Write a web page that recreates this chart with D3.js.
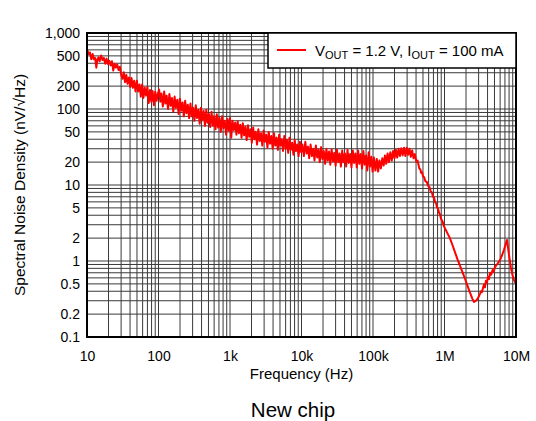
<!DOCTYPE html>
<html>
<head>
<meta charset="utf-8">
<script src="https://cdn.jsdelivr.net/npm/d3@7"></script>
<style>
  html, body { margin: 0; padding: 0; background: #fff; }
  svg { display: block; font-family: "Liberation Sans", Arial, sans-serif; }
</style>
</head>
<body>
<svg id="chart" width="536" height="421"></svg>
<script>
// Measured output noise spectral density: [frequency (Hz), noise (nV/√Hz)]
const noiseSpectrum = [
  [10, 620], [10.5, 530], [11, 555], [11.5, 450], [12, 530], [12.5, 450], [13, 470],
  [13.5, 350], [14, 450], [14.5, 480], [15, 425], [15.8, 505], [16.5, 440], [17.2, 470],
  [18, 395], [18.8, 460], [19.6, 390], [20.5, 430], [21.4, 375], [22.3, 425], [23.3, 320],
  [24.3, 395], [25.4, 350], [26.5, 385], [27.6, 325], [28.8, 360], [30, 285], [31.3, 250],
  [32.7, 305], [34, 225], [35.5, 280], [37, 215], [38.6, 260], [40.3, 195], [42, 255],
  [43.8, 190], [45.7, 235], [47.7, 170], [49.8, 235], [52, 170], [54.2, 210], [56.6, 145],
  [59, 210], [61.6, 140], [64.2, 190], [67, 150], [70, 195], [73, 120], [76, 178],
  [79.3, 125], [82.7, 172], [86.3, 112], [90, 168], [94, 128], [98, 160],
  [102, 180], [106, 125], [110, 160], [115, 108], [120, 170], [125, 118], [130, 150],
  [136, 100], [142, 158], [148, 110], [154, 140], [161, 92], [168, 146], [175, 104],
  [183, 132], [191, 86], [199, 136], [208, 95], [217, 122], [226, 80], [236, 128],
  [246, 88], [257, 114], [268, 76], [280, 118], [292, 80], [305, 104], [318, 70],
  [332, 112], [346, 76], [361, 98], [377, 64], [393, 104], [410, 72], [428, 94],
  [447, 60], [466, 98], [486, 66], [507, 86], [529, 58], [552, 92], [576, 60],
  [601, 80], [627, 54], [654, 85], [683, 57], [712, 76], [743, 50], [776, 80],
  [810, 56], [845, 70], [882, 46], [920, 74], [960, 52],
  [1000, 76], [1040, 42], [1085, 70], [1130, 53], [1180, 66], [1230, 46], [1280, 69],
  [1335, 48], [1390, 62], [1450, 42], [1510, 65], [1575, 45], [1640, 58], [1710, 39],
  [1785, 61], [1860, 43], [1940, 54], [2020, 36], [2110, 57], [2200, 40], [2290, 50],
  [2390, 34], [2490, 54], [2600, 38], [2710, 48], [2830, 33], [2950, 52], [3070, 37],
  [3200, 46], [3340, 31], [3480, 50], [3630, 35], [3790, 44], [3950, 30], [4120, 48],
  [4290, 33], [4480, 42], [4670, 29], [4870, 46], [5070, 33], [5290, 40], [5510, 28],
  [5750, 44], [6000, 30], [6250, 39], [6520, 26.5], [6800, 42], [7090, 29], [7390, 36],
  [7710, 25], [8040, 39], [8380, 28], [8740, 34], [9110, 24], [9500, 37], [9900, 27],
  [10300, 34], [10800, 24], [11300, 37], [11800, 26], [12300, 32], [12800, 22.5], [13400, 34],
  [14000, 24], [14600, 30], [15200, 21], [15900, 33], [16600, 23], [17300, 29], [18000, 20],
  [18800, 31.5], [19600, 22], [20500, 28], [21400, 19], [22300, 30], [23300, 21], [24300, 27.5],
  [25300, 18.5], [26400, 29.5], [27600, 20.5], [28800, 26.5], [30000, 18], [31300, 29], [32700, 20],
  [34100, 26], [35600, 17.5], [37100, 28.5], [38700, 20], [40400, 26], [42200, 17.5], [44000, 29],
  [45900, 19.5], [47900, 25.5], [50000, 17], [52200, 28.5], [54400, 19.5], [56800, 26], [59300, 17],
  [61900, 28.5], [64500, 19], [67300, 25.5], [70300, 16.5], [73300, 28], [76500, 18.5], [79800, 24.5],
  [83300, 15.5], [86900, 27], [90700, 17.5], [94600, 23.5], [98700, 15],
  [103000, 23], [108000, 15.5], [113000, 22], [118000, 15], [123000, 21], [129000, 16.5],
  [135000, 22.5], [141000, 18], [147000, 24.5], [153000, 19], [160000, 26], [167000, 20],
  [175000, 27], [183000, 21], [191000, 28], [200000, 22.5], [209000, 29], [218000, 23],
  [228000, 30], [238000, 24], [249000, 30.5], [260000, 24.5], [272000, 31], [284000, 24],
  [297000, 31], [310000, 25], [324000, 30], [338000, 23.5], [353000, 28.5], [369000, 22.5],
  [385000, 25.5], [402000, 20.5], [420000, 21],
  [445000, 16.5], [460000, 16], [470000, 14.5], [485000, 14.8], [500000, 13], [520000, 12.6],
  [540000, 11.2], [565000, 11], [588000, 9.8], [615000, 9.4], [640000, 8.3], [665000, 8.0],
  [690000, 7.0], [715000, 6.8], [740000, 5.9], [760000, 5.8], [785000, 5.1], [810000, 4.9],
  [840000, 4.3], [865000, 4.1], [893000, 3.6], [940000, 3.3], [985000, 2.85],
  [1080000, 2.4], [1190000, 2.0], [1300000, 1.6], [1400000, 1.31], [1520000, 1.05],
  [1650000, 0.86], [1790000, 0.71], [1940000, 0.58], [2100000, 0.47], [2280000, 0.38],
  [2450000, 0.32], [2590000, 0.289], [2750000, 0.30], [2940000, 0.326], [3140000, 0.37],
  [3250000, 0.40], [3340000, 0.39], [3560000, 0.49], [3680000, 0.45], [3800000, 0.55],
  [3930000, 0.52], [4050000, 0.62], [4190000, 0.58], [4330000, 0.70], [4500000, 0.66],
  [4700000, 0.76], [4880000, 0.72], [5080000, 0.83], [5500000, 0.92], [5970000, 1.03],
  [6400000, 1.20], [6790000, 1.40], [7150000, 1.65], [7480000, 1.89], [7700000, 1.55],
  [7980000, 1.20], [8250000, 0.98], [8510000, 0.81], [8900000, 0.66], [9380000, 0.56],
  [10000000, 0.50]
];

// Axis labels
const xTickValues = [10, 100, 1e3, 1e4, 1e5, 1e6, 1e7];
const xTickLabels = ["10", "100", "1k", "10k", "100k", "1M", "10M"];
const yTickValues = [1000, 500, 200, 100, 50, 20, 10, 5, 2, 1, 0.5, 0.2, 0.1];
const yTickLabels = ["1,000", "500", "200", "100", "50", "20", "10", "5", "2", "1", "0.5", "0.2", "0.1"];

const xTitle = "Frequency (Hz)";
const yTitle = "Spectral Noise Density (nV/\u221AHz)";
const chartTitle = "New chip";

const plot = { left: 87, right: 516, top: 33, bottom: 337 };

const svg = d3.select("#chart");

const x = d3.scaleLog().domain([10, 1e7]).range([plot.left, plot.right]);
const y = d3.scaleLog().domain([0.1, 1000]).range([plot.bottom, plot.top]);

// Grid: every 1..9 multiple in each decade
const grid = svg.append("g").attr("stroke", "#3a3a3a").attr("stroke-width", 1);
grid.selectAll("line.vx")
  .data(x.ticks())
  .join("line")
  .attr("class", "vx")
  .attr("x1", d => x(d)).attr("x2", d => x(d))
  .attr("y1", plot.top).attr("y2", plot.bottom);
grid.selectAll("line.hy")
  .data(y.ticks())
  .join("line")
  .attr("class", "hy")
  .attr("x1", plot.left).attr("x2", plot.right)
  .attr("y1", d => y(d)).attr("y2", d => y(d));

// Noise curve
svg.append("clipPath").attr("id", "plot-clip")
  .append("rect")
  .attr("x", plot.left).attr("y", plot.top)
  .attr("width", plot.right - plot.left).attr("height", plot.bottom - plot.top);

const line = d3.line().x(d => x(d[0])).y(d => y(d[1]));
svg.append("path")
  .datum(noiseSpectrum)
  .attr("clip-path", "url(#plot-clip)")
  .attr("fill", "none")
  .attr("stroke", "#ff0000")
  .attr("stroke-width", 2)
  .attr("stroke-linejoin", "round")
  .attr("d", line);

// Plot frame
svg.append("rect")
  .attr("x", plot.left).attr("y", plot.top)
  .attr("width", plot.right - plot.left).attr("height", plot.bottom - plot.top)
  .attr("fill", "none").attr("stroke", "#000").attr("stroke-width", 2);

// Axes (labels only, no tick marks)
const xAxis = d3.axisBottom(x)
  .tickValues(xTickValues)
  .tickFormat((d, i) => xTickLabels[i])
  .tickSize(0).tickPadding(14);
svg.append("g")
  .attr("transform", `translate(0,${plot.bottom})`)
  .call(xAxis)
  .call(g => g.select(".domain").remove())
  .selectAll("text")
  .attr("font-family", "Liberation Sans, Arial, sans-serif")
  .attr("font-size", 14).attr("fill", "#000");

const yAxis = d3.axisLeft(y)
  .tickValues(yTickValues)
  .tickFormat((d, i) => yTickLabels[i])
  .tickSize(0).tickPadding(7);
svg.append("g")
  .attr("transform", `translate(${plot.left},0)`)
  .call(yAxis)
  .call(g => g.select(".domain").remove())
  .selectAll("text")
  .attr("font-family", "Liberation Sans, Arial, sans-serif")
  .attr("font-size", 14).attr("fill", "#000");

// Axis titles
svg.append("text")
  .attr("x", (plot.left + plot.right) / 2).attr("y", 379)
  .attr("text-anchor", "middle")
  .attr("font-size", 15).attr("fill", "#000")
  .text(xTitle);

svg.append("text")
  .attr("transform", `translate(25,${(plot.top + plot.bottom) / 2}) rotate(-90)`)
  .attr("text-anchor", "middle")
  .attr("font-size", 15.5).attr("fill", "#000")
  .text(yTitle);

// Chart caption
svg.append("text")
  .attr("x", 293).attr("y", 417)
  .attr("text-anchor", "middle")
  .attr("font-size", 20.5).attr("fill", "#000")
  .text(chartTitle);

// Legend
const legend = svg.append("g");
legend.append("rect")
  .attr("x", 268).attr("y", plot.top)
  .attr("width", plot.right - 268).attr("height", 35)
  .attr("fill", "#fff").attr("stroke", "#000").attr("stroke-width", 1.5);
legend.append("line")
  .attr("x1", 277).attr("x2", 306).attr("y1", 50).attr("y2", 50)
  .attr("stroke", "#ff0000").attr("stroke-width", 2);
const lt = legend.append("text")
  .attr("x", 315).attr("y", 56)
  .attr("font-size", 15).attr("fill", "#000");
lt.append("tspan").text("V");
lt.append("tspan").attr("font-size", 11).attr("dy", 3).text("OUT");
lt.append("tspan").attr("dy", -3).text(" = 1.2 V, I");
lt.append("tspan").attr("font-size", 11).attr("dy", 3).text("OUT");
lt.append("tspan").attr("dy", -3).text(" = 100 mA");
</script>
</body>
</html>
